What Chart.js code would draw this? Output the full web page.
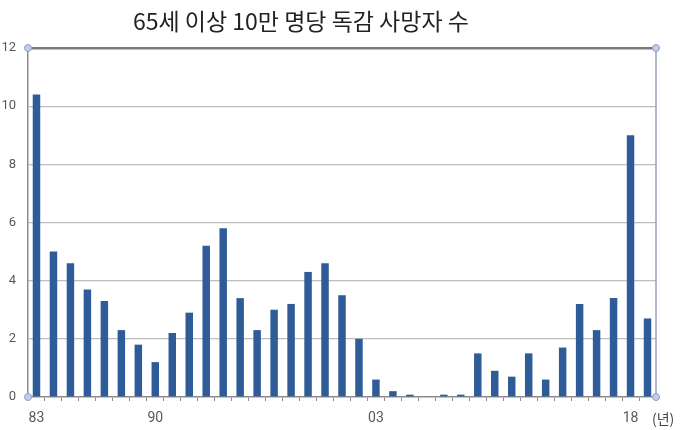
<!DOCTYPE html>
<html>
<head>
<meta charset="utf-8">
<script src="https://cdn.jsdelivr.net/npm/chart.js@4/dist/chart.umd.min.js"></script>
<style>
  body{margin:0;background:#fff;}
  #wrap{position:relative;width:680px;height:430px;}
  #title{position:absolute;left:133px;top:3px;font-family:"Noto Sans CJK KR","Noto Sans",sans-serif;font-size:23px;color:#222;white-space:nowrap;}
  #unit{position:absolute;left:652px;top:408px;font-family:"Noto Sans CJK KR",sans-serif;font-size:14px;color:#444;}
</style>
</head>
<body>
<div id="wrap">
  <canvas id="c" width="680" height="430"></canvas>
  <div id="title">65세 이상 10만 명당 독감 사망자 수</div>
  <div id="unit">(년)</div>
</div>
<script>
// 1983 ~ 2019
var years = [];
for (var y = 1983; y <= 2019; y++) years.push(String(y % 100).padStart(2, '0'));
var shownLabels = ['83', '90', '03', '18'];
var deaths = [10.4, 5.0, 4.6, 3.7, 3.3, 2.3, 1.8, 1.2, 2.2, 2.9,
              5.2, 5.8, 3.4, 2.3, 3.0, 3.2, 4.3, 4.6, 3.5, 2.0,
              0.6, 0.2, 0.08, 0, 0.08, 0.08, 1.5, 0.9, 0.7, 1.5,
              0.6, 1.7, 3.2, 2.3, 3.4, 9.0, 2.7];
var yTicks = [0, 2, 4, 6, 8, 10, 12];

// frame on the right side + selection handles at the corners
var framePlugin = {
  id: 'frame',
  afterDraw: function(chart){
    var ctx = chart.ctx, a = chart.chartArea;
    ctx.save();
    ctx.strokeStyle = '#9aa3b5';
    ctx.lineWidth = 1.5;
    ctx.beginPath();
    ctx.moveTo(a.right, a.top);
    ctx.lineTo(a.right, a.bottom);
    ctx.stroke();
    [[a.left, a.top], [a.right, a.top], [a.left, a.bottom], [a.right, a.bottom]].forEach(function(p){
      ctx.beginPath();
      ctx.arc(p[0], p[1], 3.5, 0, Math.PI * 2);
      ctx.fillStyle = '#c3cdea';
      ctx.fill();
      ctx.strokeStyle = '#8e9fcc';
      ctx.lineWidth = 1;
      ctx.stroke();
    });
    ctx.restore();
  }
};

new Chart(document.getElementById('c'), {
  type: 'bar',
  data: {
    labels: years,
    datasets: [{
      data: deaths,
      backgroundColor: '#2f5c98',
      barPercentage: 0.9,
      categoryPercentage: 0.49
    }]
  },
  options: {
    responsive: false,
    animation: false,
    layout: { padding: { top: 48, right: 24, left: 0, bottom: 0 } },
    plugins: { legend: { display: false }, tooltip: { enabled: false } },
    scales: {
      x: {
        grid: { drawOnChartArea: false, drawTicks: true, tickLength: 4, color: '#8c8c8c', offset: true },
        border: { color: '#8c8c8c', width: 1.5 },
        ticks: {
          autoSkip: false, maxRotation: 0, padding: 9,
          color: '#595959', font: { family: 'Roboto, "Noto Sans", sans-serif', size: 14 },
          callback: function(v){ var l = years[v]; return shownLabels.indexOf(l) >= 0 ? l : ''; }
        },
        afterFit: function(s){ s.height = 33; }
      },
      y: {
        min: 0, max: 12,
        afterBuildTicks: function(s){ s.ticks = yTicks.map(function(v){ return { value: v }; }); },
        grid: {
          drawTicks: false,
          color: function(c){ return c.tick && c.tick.value === 12 ? '#7a7a7a' : (c.tick && c.tick.value === 0 ? 'rgba(0,0,0,0)' : '#bdbdbd'); },
          lineWidth: function(c){ return c.tick && c.tick.value === 12 ? 2.5 : 1.2; }
        },
        border: { color: '#8c8c8c', width: 1.5 },
        ticks: { padding: 12, color: '#595959', font: { family: 'Roboto, "Noto Sans", sans-serif', size: 13 } },
        afterFit: function(s){ s.width = 28; }
      }
    }
  },
  plugins: [framePlugin]
});
</script>
</body>
</html>
